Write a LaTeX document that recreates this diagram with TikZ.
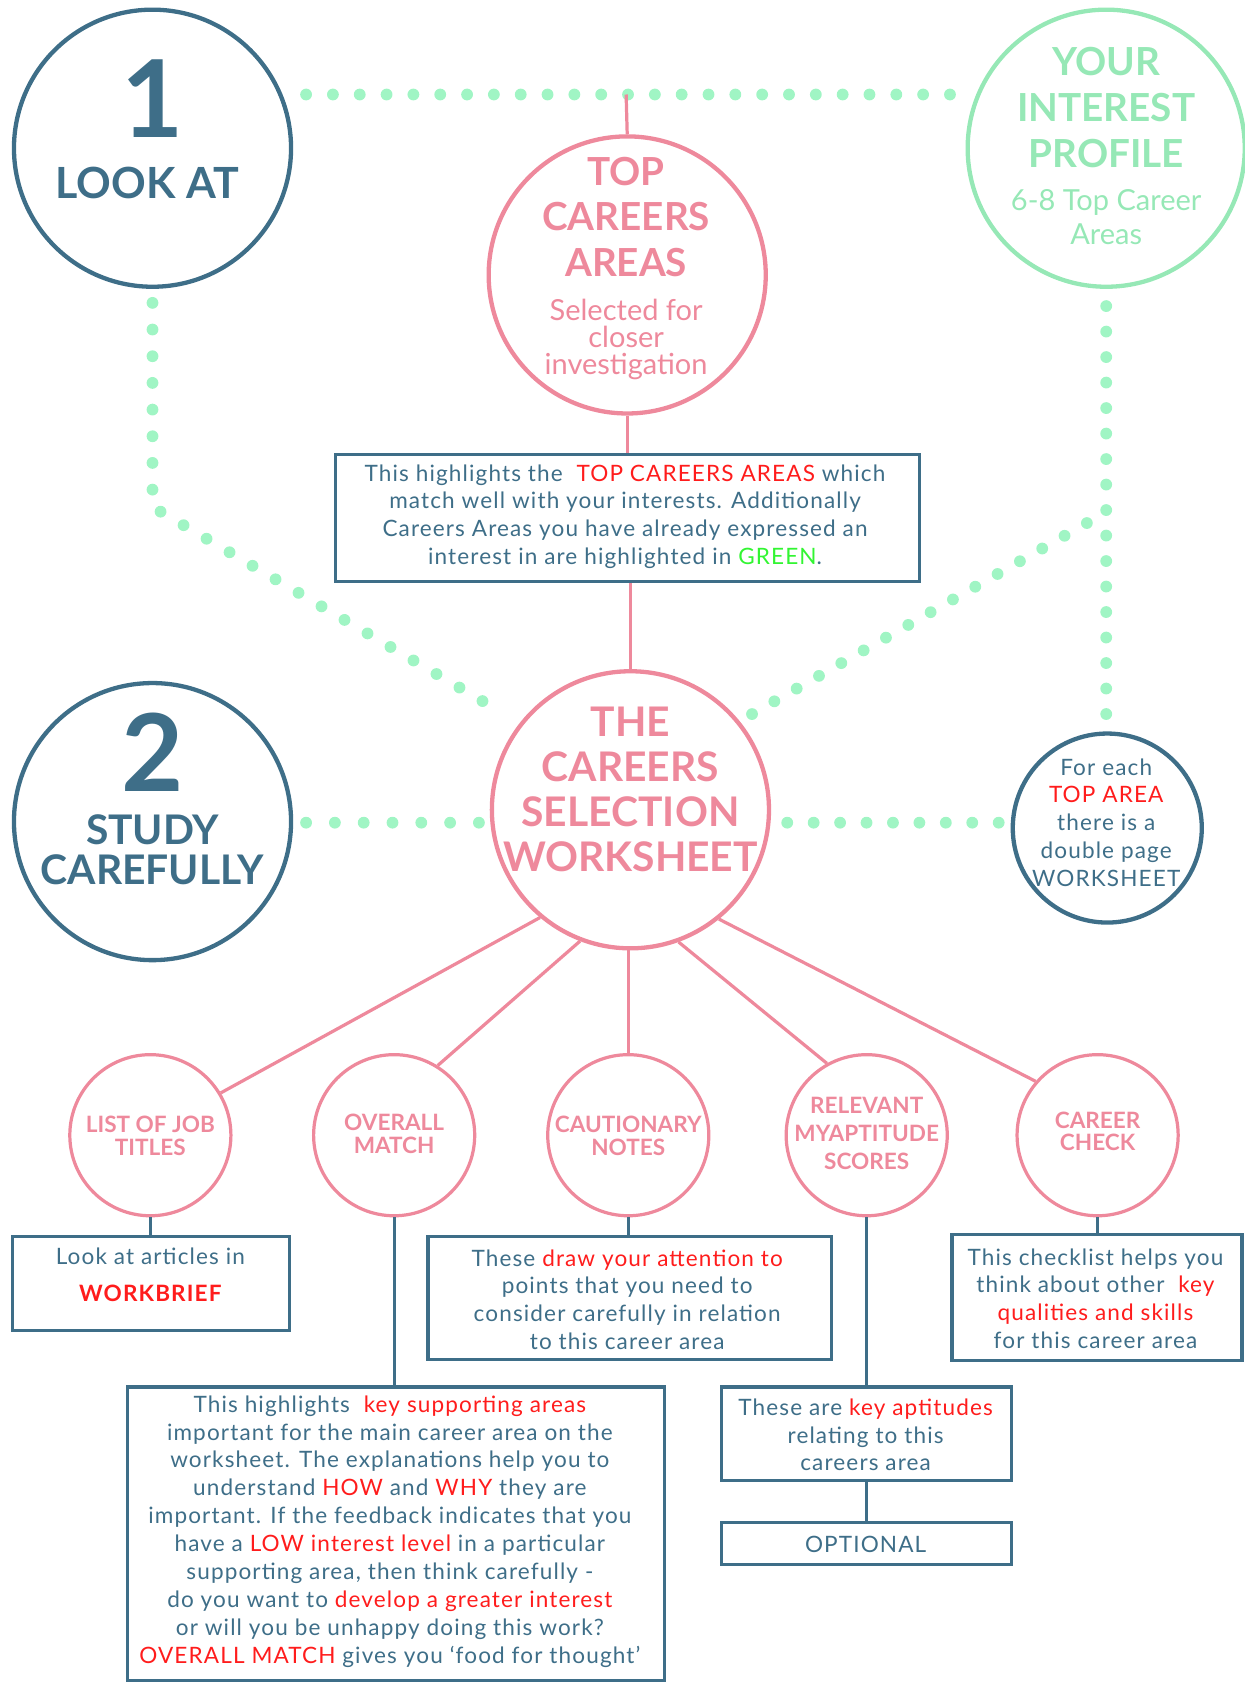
\documentclass[tikz,border=0pt]{standalone}
\usepackage{fontspec}
\setmainfont{Lato}
\newfontfamily\bodyfont{Lato}[LetterSpace=5]
\definecolor{tealc}{RGB}{62,110,136}
\definecolor{pinkc}{RGB}{238,137,156}
\definecolor{greenc}{RGB}{150,232,182}
\definecolor{dotc}{RGB}{160,245,196}
\definecolor{redc}{RGB}{255,28,28}
\definecolor{brightgreen}{RGB}{50,245,50}
\newcommand{\rd}[1]{\textcolor{redc}{#1}}
\begin{document}
\begin{tikzpicture}[x=1pt,y=-1pt,
  bigring/.style={circle, draw, line width=4pt, minimum size=258pt, inner sep=0pt},
  smallring/.style={circle, draw=pinkc, line width=3pt, minimum size=150pt, inner sep=0pt},
  boxs/.style={rectangle, draw=tealc, line width=3pt, inner sep=0pt},
  dotline/.style={draw=dotc, line width=11pt, line cap=round, dash pattern=on 0pt off #1},
  pinkline/.style={draw=pinkc, line width=3pt},
  tealline/.style={draw=tealc, line width=3pt},
  body/.style={text=tealc, align=center, font=\bodyfont\fontsize{21}{25.8}\selectfont, inner sep=0pt},
  pinkhead/.style={text=pinkc, align=center, font=\fontsize{36}{42}\selectfont\bfseries, inner sep=0pt},
  smalltxt/.style={text=pinkc, align=center, font=\fontsize{21}{21}\selectfont\bfseries, inner sep=0pt}
]
\useasboundingbox (0,0) rectangle (1159,1568);

% ---------- dotted connectors ----------
\coordinate (dTL) at (285,88);
\coordinate (dTR) at (885,88);
\coordinate (dTM) at (583,88);
\coordinate (dL1) at (142,282);
\coordinate (dL2) at (142,472);
\coordinate (dL3) at (470,665);
\coordinate (dR1) at (1030,285);
\coordinate (dR2) at (1030,665);
\coordinate (dR3) at (1012,487);
\coordinate (dR4) at (700,665);
\coordinate (dH1) at (285,766);
\coordinate (dH2) at (446,766);
\coordinate (dH3) at (733,766);
\coordinate (dH4) at (930,766);
\draw[dotline=24.98pt] (dTL) -- (dTR);
\draw[dotline=24.84pt] (dL1) -- (dL2) -- (dL3);
\draw[dotline=23.74pt] (dR1) -- (dR2);
\draw[dotline=23.93pt] (dR3) -- (dR4);
\draw[dotline=26.82pt] (dH1) -- (dH2);
\draw[dotline=24.61pt] (dH3) -- (dH4);

% ---------- big circles ----------
\node[bigring, draw=tealc] (one) at (142,138) {};
\node[text=tealc, font=\fontsize{100}{100}\selectfont\bfseries, inner sep=0pt] (onenum) at (142,92) {1};
\node[text=tealc, font=\fontsize{40}{40}\selectfont\bfseries, inner sep=0pt] (lookat) at (137,170) {LOOK AT};

\node[bigring, draw=tealc] (two) at (142,765) {};
\node[text=tealc, font=\fontsize{100}{100}\selectfont\bfseries, inner sep=0pt] (twonum) at (142,700) {2};
\node[text=tealc, align=center, font=\fontsize{38}{37}\selectfont\bfseries, inner sep=0pt] (study) at (142,791) {STUDY\\CAREFULLY};

\node[bigring, draw=pinkc] (topc) at (584,256) {};
\node[pinkhead] (tophead) at (583,202) {TOP\\CAREERS\\AREAS};
\node[text=pinkc, align=center, font=\fontsize{27}{25.5}\selectfont, inner sep=0pt] (topsub) at (583,316) {Selected for\\closer\\investigation};

\node[bigring, draw=greenc] (intc) at (1030,138) {};
\node[text=greenc, align=center, font=\fontsize{36}{42.5}\selectfont\bfseries, inner sep=0pt] (inthead) at (1030,100) {YOUR\\INTEREST\\PROFILE};
\node[text=greenc, align=center, font=\fontsize{27}{32}\selectfont, inner sep=0pt] (intsub) at (1030,202) {6-8 Top Career\\Areas};

\node[bigring, draw=pinkc] (ws) at (587,754) {};
\node[text=pinkc, align=center, font=\fontsize{38}{42}\selectfont\bfseries, inner sep=0pt] (wshead) at (587,735) {THE\\CAREERS\\SELECTION\\WORKSHEET};

\node[circle, draw=tealc, line width=4pt, minimum size=176pt, inner sep=0pt] (each) at (1031,771) {};
\node[body, font=\bodyfont\fontsize{21}{26}\selectfont] (eachtxt) at (1030,766) {For each\\\rd{TOP AREA}\\there is a\\double page\\WORKSHEET};

% ---------- box under top careers ----------
\node[boxs, minimum width=544pt, minimum height=118pt] (box1) at (584.5,482.5) {};
\node[body] (box1txt) at (582,481) {This highlights the \ \rd{TOP CAREERS AREAS} which\\
match well with your interests. Additionally\\
Careers Areas you have already expressed an\\
interest in are highlighted in \textcolor{brightgreen}{GREEN}.};

% ---------- pink connectors ----------
\draw[pinkline] (topc.north) -- (dTM);
\draw[pinkline] (topc.south) -- (topc.south |- box1.north);
\draw[pinkline] (box1.south -| ws.north) -- (ws.north);

% ---------- small circles ----------
\node[smallring] (c1) at (140,1057) {};
\node[smallring] (c2) at (367,1057) {};
\node[smallring] (c3) at (585,1057) {};
\node[smallring] (c4) at (807,1057) {};
\node[smallring] (c5) at (1022,1057) {};
\node[smalltxt] (c1t) at (140,1057.5) {LIST OF JOB\\TITLES};
\node[smalltxt] (c2t) at (367,1055.5) {OVERALL\\MATCH};
\node[smalltxt] (c3t) at (585,1057.5) {CAUTIONARY\\NOTES};
\node[smalltxt, font=\fontsize{21}{26}\selectfont\bfseries] (c4t) at (807,1055) {RELEVANT\\MYAPTITUDE\\SCORES};
\node[smalltxt] (c5t) at (1022,1053.5) {CAREER\\CHECK};

\draw[pinkline] (ws.230.6) -- (c1.31.6);
\draw[pinkline] (ws.249.1) -- (c2.58.4);
\draw[pinkline] (ws.south -| c3.north) -- (c3.north);
\draw[pinkline] (ws.290.9) -- (c4.119.6);
\draw[pinkline] (ws.309) -- (c5.139.3);

% ---------- lower boxes ----------
\node[boxs, minimum width=258pt, minimum height=87pt] (lookbox) at (140.5,1195) {};
\node[body] (looktxt) at (140,1187) {Look at articles in\\[9pt]\textcolor{redc}{\bfseries WORKBRIEF}};

\node[boxs, minimum width=376pt, minimum height=114pt] (cautbox) at (586.5,1208.5) {};
\node[body] (cauttxt) at (584,1210) {These \rd{draw your attention to}\\
points that you need to\\
consider carefully in relation\\
to this career area};

\node[boxs, minimum width=270pt, minimum height=117pt] (checkbox) at (1021.5,1208) {};
\node[body] (checktxt) at (1020,1209) {This checklist helps you\\
think about other \ \rd{key}\\
\rd{qualities and skills}\\
for this career area};

\node[boxs, minimum width=500pt, minimum height=273pt] (bigbox) at (368.5,1428) {};
\node[body, font=\bodyfont\fontsize{21}{26}\selectfont] (bigtxt) at (363,1426) {This highlights \ \rd{key supporting areas}\\
important for the main career area on the\\
worksheet. The explanations help you to\\
understand \rd{HOW} and \rd{WHY} they are\\
important. If the feedback indicates that you\\
have a \rd{LOW interest level} in a particular\\
supporting area, then think carefully -\\
do you want to \rd{develop a greater interest}\\
or will you be unhappy doing this work?\\
\rd{OVERALL MATCH} gives you ‘food for thought’};

\node[boxs, minimum width=270pt, minimum height=87pt] (aptbox) at (806.5,1335) {};
\node[body] (apttxt) at (806,1336) {These are \rd{key aptitudes}\\
relating to this\\
careers area};

\node[boxs, minimum width=270pt, minimum height=39pt] (optbox) at (806.5,1437) {};
\node[body] (opttxt) at (806,1438) {OPTIONAL};

% ---------- teal connectors ----------
\draw[tealline] (c1.south) -- (c1.south |- lookbox.north);
\draw[tealline] (c2.south) -- (c2.south |- bigbox.north);
\draw[tealline] (c3.south) -- (c3.south |- cautbox.north);
\draw[tealline] (c4.south) -- (c4.south |- aptbox.north);
\draw[tealline] (aptbox.south -| c4.south) -- (c4.south |- optbox.north);
\draw[tealline] (c5.south) -- (c5.south |- checkbox.north);
\end{tikzpicture}
\end{document}
